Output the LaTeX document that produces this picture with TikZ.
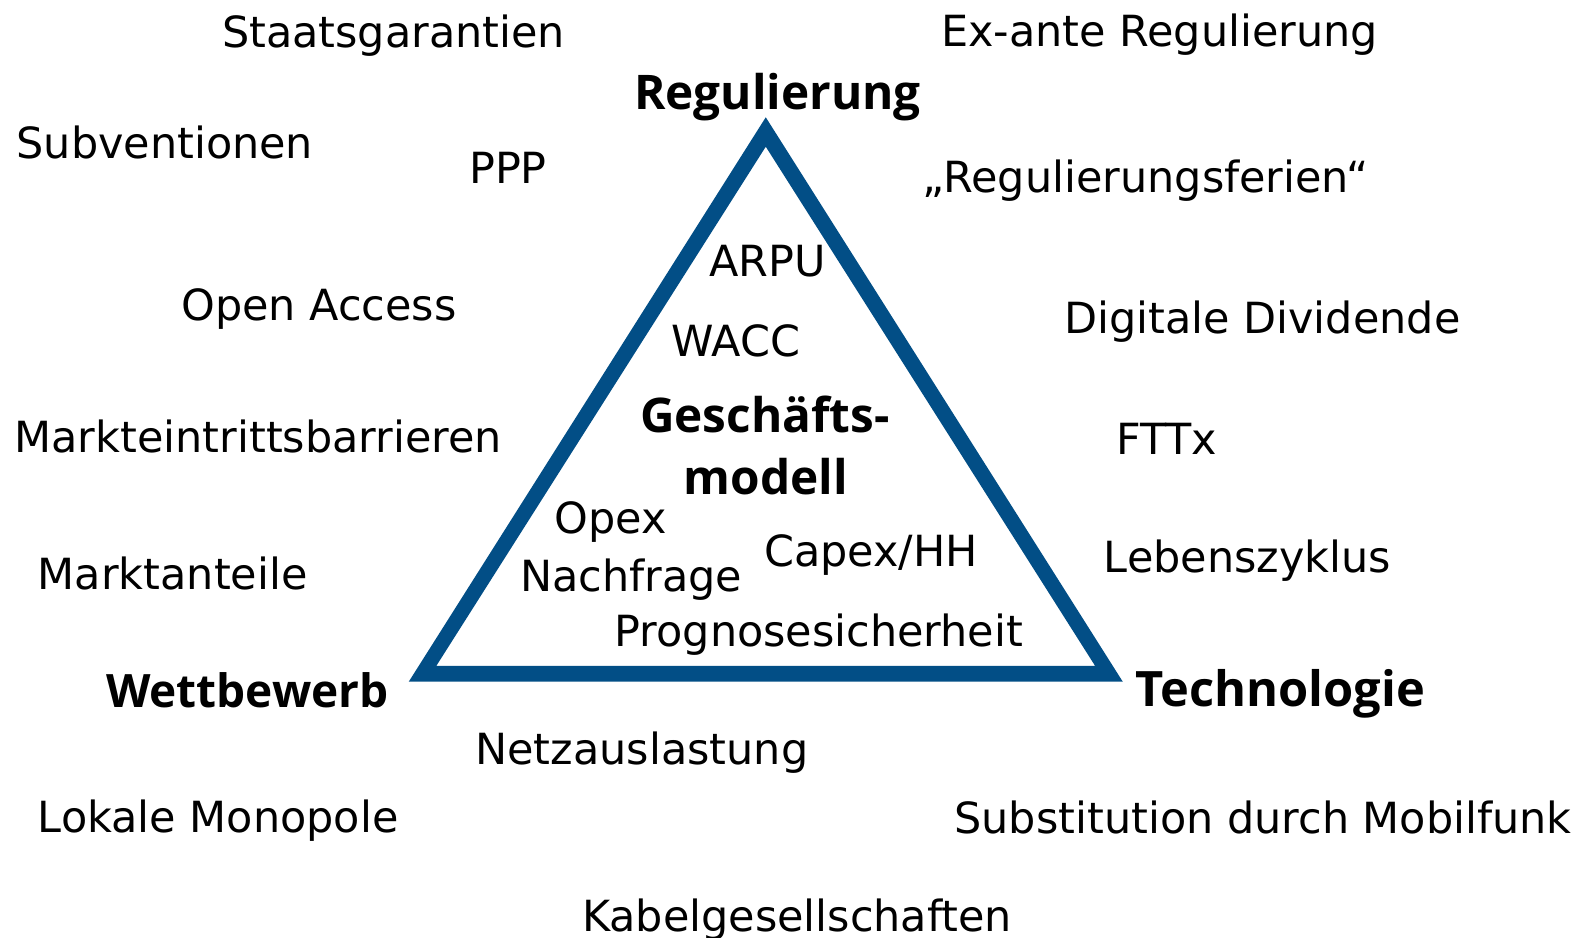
\documentclass[tikz,border=0pt]{standalone}
\usepackage{fontspec}
\setmainfont{DejaVu Sans}
\newfontfamily\headfont{Open Sans}[BoldFont={Open Sans Bold}]
\definecolor{triblue}{RGB}{2,78,134}
\begin{document}
\begin{tikzpicture}[x=0.7629pt,y=-0.7629pt,
  item/.style={anchor=base west,inner sep=0pt,font=\fontsize{32.2}{36}\selectfont},
  head/.style={anchor=base west,inner sep=0pt,font=\headfont\bfseries\fontsize{#1}{40}\selectfont},
  head/.default=35.8]
\useasboundingbox (0,0) rectangle (1568,922);
% triangle frame
\fill[triblue,even odd rule]
  (752.8,115.3) -- (401.8,670.2) -- (1103.8,670.2) -- cycle
  (752.8,144.2) -- (429.0,654.5) -- (1076.5,654.5) -- cycle;
% corner headings
\node[head] (reg) at (623,108) {Regulierung};
\node[head=34.5] (wett) at (104,696) {Wettbewerb};
\node[head=36.6] (tech) at (1116,695) {Technologie};
\node[head] (gesch) at (629,425) {Geschäfts-};
\node[head] (modell) at (672,486) {modell};
% items
\node[item] (staat) at (218,47) {Staatsgarantien};
\node[item] (exante) at (925,46) {Ex-ante Regulierung};
\node[item] (subv) at (16,156) {Subventionen};
\node[item] (ppp) at (461,180) {PPP};
\node[item] (ferien) at (907,189) {„Regulierungsferien“};
\node[item] (arpu) at (697,272) {ARPU};
\node[item] (open) at (178,315) {Open Access};
\node[item] (digi) at (1046,328) {Digitale Dividende};
\node[item] (wacc) at (660,350) {WACC};
\node[item] (markt) at (14,445) {Markteintrittsbarrieren};
\node[item] (fttx) at (1097,447) {FTTx};
\node[item] (opex) at (545,524) {Opex};
\node[item] (capex) at (751,557) {Capex/HH};
\node[item] (leben) at (1085,563) {Lebenszyklus};
\node[item] (anteile) at (37,580) {Marktanteile};
\node[item] (nachf) at (511,581) {Nachfrage};
\node[item] (progn) at (604,636) {Prognosesicherheit};
\node[item] (netz) at (467,752) {Netzauslastung};
\node[item] (lokal) at (37,818) {Lokale Monopole};
\node[item] (subst) at (938,819) {Substitution durch Mobilfunk};
\node[item] (kabel) at (572,916) {Kabelgesellschaften};
\end{tikzpicture}
\end{document}
